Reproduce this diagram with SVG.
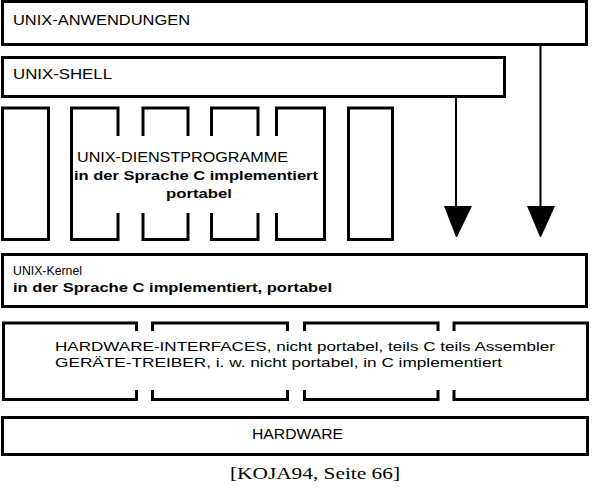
<svg xmlns="http://www.w3.org/2000/svg" width="592" height="488" viewBox="0 0 592 488">
<style>
.box{fill:none;stroke:#000;stroke-width:3;stroke-linejoin:miter;stroke-linecap:butt}
.t{font-family:"Liberation Sans",Arial,sans-serif;font-size:14px;fill:#000}
.s{font-size:13px}
.b{font-weight:bold}
.cite{font-family:"Liberation Serif","Times New Roman",serif;font-size:16px;fill:#000}
.conn{stroke:#000;stroke-width:2;fill:none}
.head{fill:#000}
</style>
<rect width="592" height="488" fill="#fff"/>
<g id="anwendungen">
<rect class="box" x="2.5" y="1.5" width="584" height="43"/>
<text class="t" x="13" y="25" textLength="177" lengthAdjust="spacingAndGlyphs">UNIX-ANWENDUNGEN</text>
</g>
<g id="shell">
<rect class="box" x="2.5" y="57.5" width="502" height="39"/>
<text class="t" x="13" y="79" textLength="99" lengthAdjust="spacingAndGlyphs">UNIX-SHELL</text>
</g>
<g id="dienstprogramme">
<rect class="box" x="2.5" y="108" width="46" height="131.5"/>
<path class="box" d="M118,136 V108 H71.5 V239.5 H118 V213 M143,136 V108 H188 V136 M211.5,136 V108 H258 V136 M276.5,136 V108 H324.5 V239.5 H276.5 V213 M143,213 V239.5 H188 V213 M211.5,213 V239.5 H258 V213"/>
<rect class="box" x="348.5" y="108" width="44" height="131.5"/>
<text class="t" x="77" y="162" textLength="211" lengthAdjust="spacingAndGlyphs">UNIX-DIENSTPROGRAMME</text>
<text class="t s b" x="74" y="180" textLength="244" lengthAdjust="spacingAndGlyphs">in der Sprache C implementiert</text>
<text class="t s b" x="166" y="198" textLength="66" lengthAdjust="spacingAndGlyphs">portabel</text>
</g>
<g id="kernel">
<rect class="box" x="2.5" y="254.5" width="584" height="52"/>
<text class="t s" x="13" y="275" textLength="69" lengthAdjust="spacingAndGlyphs">UNIX-Kernel</text>
<text class="t s b" x="13" y="292" textLength="319" lengthAdjust="spacingAndGlyphs">in der Sprache C implementiert, portabel</text>
</g>
<g id="hardware-interfaces">
<path class="box" d="M136.5,331 V323 H3.5 V399.5 H136.5 V390 M152.5,331 V323 H287.5 V331 M304.5,331 V323 H438 V331 M454,331 V323 H587.5 V399.5 H454 V390 M152.5,390 V399.5 H287.5 V390 M304.5,390 V399.5 H438 V390"/>
<text class="t s" x="55" y="351" textLength="500" lengthAdjust="spacingAndGlyphs">HARDWARE-INTERFACES, nicht portabel, teils C teils Assembler</text>
<text class="t s" x="55" y="367" textLength="447" lengthAdjust="spacingAndGlyphs">GERÄTE-TREIBER, i. w. nicht portabel, in C implementiert</text>
</g>
<g id="hardware">
<rect class="box" x="2.5" y="417.5" width="585" height="37"/>
<text class="t" x="252" y="439" textLength="91" lengthAdjust="spacingAndGlyphs">HARDWARE</text>
</g>
<g id="connectors">
<line class="conn" x1="456" y1="97" x2="456" y2="207"/>
<polygon class="head" points="444,206 472,206 457,237 456,237"/>
<line class="conn" x1="540.5" y1="46" x2="540.5" y2="207"/>
<polygon class="head" points="527,206 555,206 541,237 540,237"/>
</g>
<text class="cite" x="230" y="479" textLength="170" lengthAdjust="spacingAndGlyphs">[KOJA94, Seite 66]</text>
</svg>
